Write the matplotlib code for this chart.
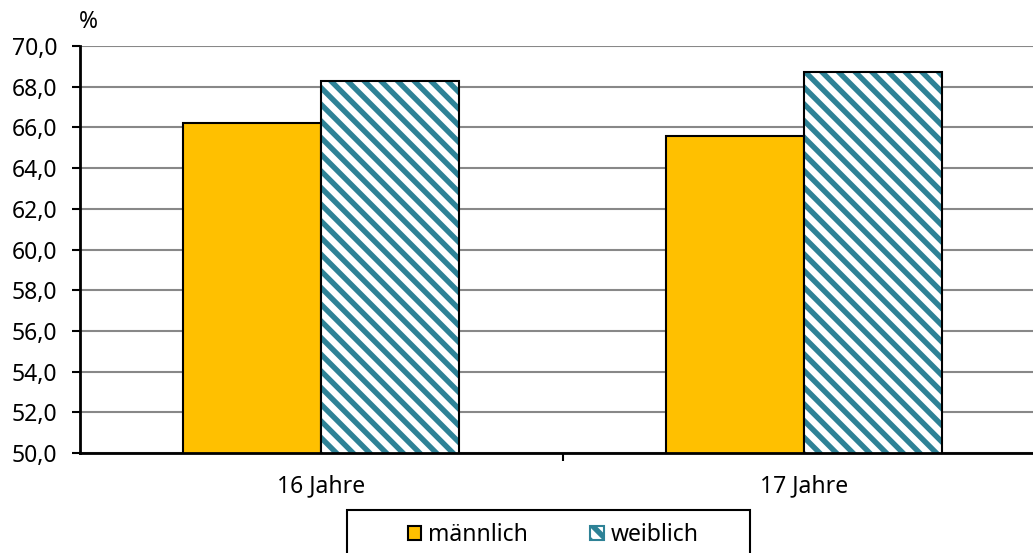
import matplotlib
matplotlib.use("Agg")
import matplotlib.pyplot as plt
from matplotlib.patches import Patch, Rectangle
import numpy as np

categories = ["16 Jahre", "17 Jahre"]
series_names = ["männlich", "weiblich"]
maennlich = [66.2, 65.6]
weiblich = [68.3, 68.7]
yticks = [50.0, 52.0, 54.0, 56.0, 58.0, 60.0, 62.0, 64.0, 66.0, 68.0, 70.0]

plt.rcParams['font.family'] = ['Noto Sans', 'DejaVu Sans']
plt.rcParams['hatch.linewidth'] = 3.9

TEAL = '#2E8296'
GOLD = '#FFC000'
HATCH = '\\\\'
FS = 16.5
W, H = 1033, 553
fig = plt.figure(figsize=(W/100, H/100), dpi=100)
ax = fig.add_axes([80/W, 1-453/H, (1045-80)/W, (453-46)/H])

x = np.arange(len(categories))
bw = 0.2857
ax.bar(x - bw/2, maennlich, bw, color=GOLD, edgecolor='black', linewidth=1.5, zorder=3)
ax.bar(x + bw/2, weiblich, bw, color='white', edgecolor=TEAL, hatch=HATCH, linewidth=0, zorder=3)
ax.bar(x + bw/2, weiblich, bw, fill=False, edgecolor='black', linewidth=1.5, zorder=4)

ax.set_xlim(-0.5, 1.5)
ax.set_ylim(50, 70)
ax.set_yticks(yticks)
ax.set_yticklabels([f"{v:.1f}".replace('.', ',') for v in yticks], fontsize=FS)
ax.set_xticks([0.5])
ax.set_xticklabels([''])
for xi, c in zip(x, categories):
    ax.text(xi, -0.052, c, transform=ax.get_xaxis_transform(), ha='center', va='top', fontsize=FS)
ax.tick_params(axis='y', length=6, width=1.5, pad=10.5)
ax.tick_params(axis='x', length=6, width=1.5, direction='out')
ax.yaxis.grid(True, color='#888888', linewidth=1.5, zorder=0)
ax.set_axisbelow(True)
for s in ['top', 'right']:
    ax.spines[s].set_visible(False)
for s in ['left', 'bottom']:
    ax.spines[s].set_linewidth(2)
    ax.spines[s].set_zorder(5)

fig.text(88/W, 1-22/H, '%', fontsize=FS, ha='center', va='center')

handles = [Patch(facecolor=GOLD, edgecolor='black', linewidth=1.5),
           Patch(facecolor='white', edgecolor=TEAL, hatch=HATCH, linewidth=1.5)]
leg = fig.legend(handles, series_names, loc='center', bbox_to_anchor=(553/W, 1-535/H), ncol=2,
                 frameon=False, fontsize=FS, handlelength=0.6, handleheight=0.6, handletextpad=0.27,
                 columnspacing=2.75, borderpad=0, borderaxespad=0)
fig.patches.append(Rectangle((347/W, -0.05), 403/W, (553-510)/H + 0.05, transform=fig.transFigure,
                             fill=False, edgecolor='black', linewidth=1.5))

fig.savefig('out.png', dpi=100)
